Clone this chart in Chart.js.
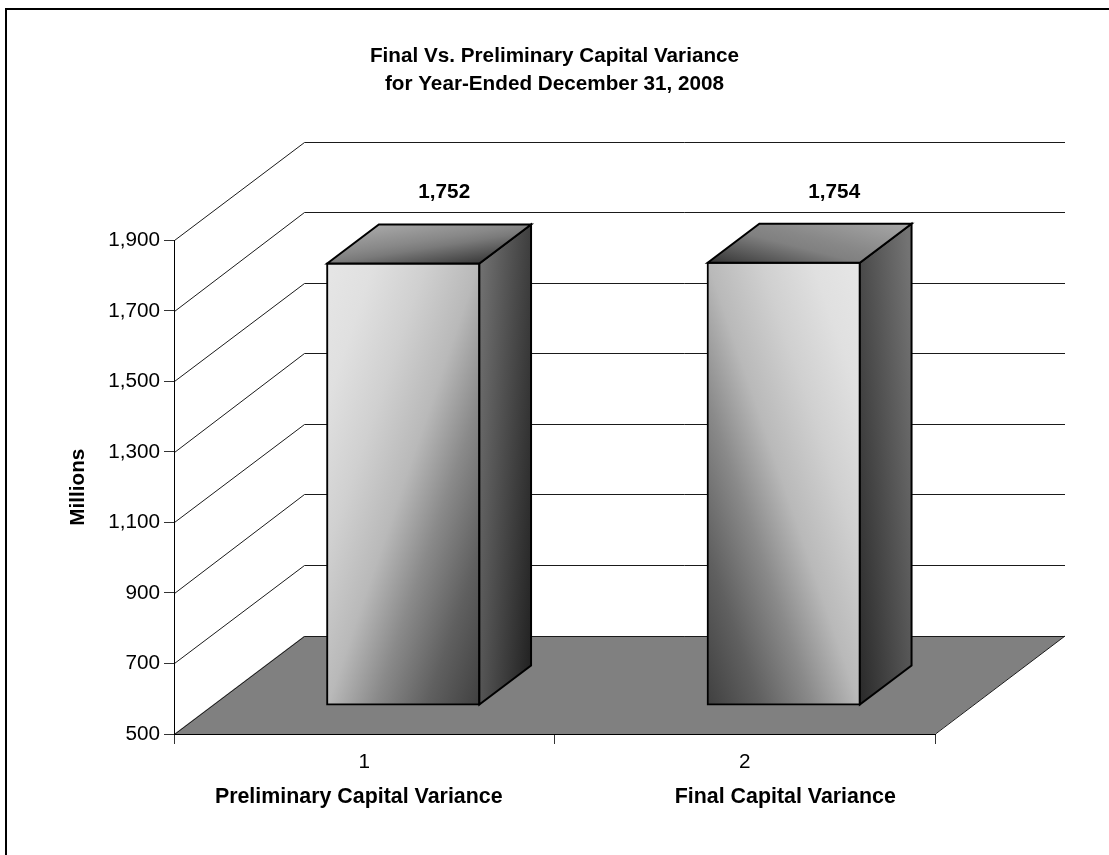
<!DOCTYPE html>
<html><head><meta charset="utf-8">
<style>html,body{margin:0;padding:0;background:#fff}#w{width:1109px;height:855px}canvas{display:block}</style>
<script src="https://cdn.jsdelivr.net/npm/chart.js@4/dist/chart.umd.js"></script>
</head><body><div id="w"><canvas id="c"></canvas></div>
<script>
const categories = ['1', '2'];
const categoryNames = ['Preliminary Capital Variance', 'Final Capital Variance'];
const values = [1752, 1754];
const titleLines = ['Final Vs. Preliminary Capital Variance', 'for Year-Ended December 31, 2008'];
const yAxisTitle = 'Millions';
const yMin = 500, yMax = 1900, yStep = 200;

const FONT = '"Liberation Sans", Arial, sans-serif';
const SIZE = 20.7;
const fmt = v => Number(v).toLocaleString('en-US');
const WALL = {dx: 130, dy: -98};
const GAP = {dx: 39, dy: -29};
const DEPTH = {dx: 51.7, dy: -39};
const BAR_PCT = 0.4;
const LABEL_OFFSET = [80, 89.5];
const NAME_OFFSET = [-5.5, 40.5];

function grad(ctx, x0, y0, vx, vy, stops) {
  const g = ctx.createLinearGradient(x0, y0, x0 + vx, y0 + vy);
  stops.forEach(s => g.addColorStop(s[0], s[1]));
  return g;
}
function frontFill(c) {
  const chart = c.chart, xs = chart.scales.x, ys = chart.scales.y;
  if (!xs || !ys || c.dataIndex === undefined) return '#999';
  const step = Math.abs(xs.getPixelForValue(1) - xs.getPixelForValue(0));
  const w = step * BAR_PCT, cx = xs.getPixelForValue(c.dataIndex), top = ys.getPixelForValue(values[c.dataIndex]);
  if (![step, cx, top].every(Number.isFinite)) return '#999';
  const stops = [[0, '#e6e6e6'], [.155, '#e0e0e0'], [.325, '#d0d0d0'], [.5, '#b9b9b9'], [.655, '#8a8a8a'], [.825, '#606060'], [1, '#404040']];
  return c.dataIndex === 0
    ? grad(chart.ctx, cx - w / 2, top, 272, 93.4, stops)
    : grad(chart.ctx, cx + w / 2, top, -272, 93.4, stops);
}
function poly(ctx, pts, fill, lw, stroke) {
  ctx.beginPath();
  pts.forEach((p, i) => i ? ctx.lineTo(p[0], p[1]) : ctx.moveTo(p[0], p[1]));
  ctx.closePath();
  if (fill) { ctx.fillStyle = fill; ctx.fill(); }
  if (lw) { ctx.lineWidth = lw; ctx.strokeStyle = stroke || '#000'; ctx.lineJoin = 'miter'; ctx.stroke(); }
}
const scene = {
  id: 'scene',
  beforeDraw(chart) {
    const ctx = chart.ctx, a = chart.chartArea, ys = chart.scales.y;
    ctx.save();
    ctx.fillStyle = '#000';
    ctx.fillRect(5, 8, 2, 847);
    ctx.fillRect(5, 8, 1104, 2);
    const b = ys.getPixelForValue(yMin);
    poly(ctx, [[a.left, b], [a.left + WALL.dx, b + WALL.dy], [a.right + WALL.dx, b + WALL.dy], [a.right, b]], '#808080');
    ctx.lineWidth = 1; ctx.strokeStyle = '#1a1a1a';
    for (let v = yMin; v <= yMax; v += yStep) {
      const y0 = ys.getPixelForValue(v);
      const y = Math.round(y0) + .5;
      const yb = Math.floor(y0 + WALL.dy) + .5;
      ctx.beginPath();
      ctx.moveTo(a.left + .5, y);
      ctx.lineTo(a.left + WALL.dx + .5, yb);
      ctx.lineTo(a.right + WALL.dx, yb);
      ctx.stroke();
    }
    ctx.beginPath();
    ctx.moveTo(a.right + WALL.dx, b + WALL.dy);
    ctx.lineTo(a.right + .5, b);
    ctx.stroke();
    ctx.restore();
  },
  beforeDatasetsDraw(chart) { chart.ctx.save(); chart.ctx.translate(GAP.dx, GAP.dy); },
  afterDatasetsDraw(chart) {
    const ctx = chart.ctx;
    ctx.restore();
    ctx.save();
    chart.getDatasetMeta(0).data.forEach((bar, i) => {
      const w = bar.width;
      const l = bar.x - w / 2 + GAP.dx, r = bar.x + w / 2 + GAP.dx;
      const t = bar.y + GAP.dy, bt = bar.base + GAP.dy;
      const dx = DEPTH.dx, dy = DEPTH.dy;
      const side = i === 0
        ? grad(ctx, r, t, 76.6, 4.8, [[0, '#727272'], [1, '#222222']])
        : grad(ctx, r, bt, 87.8, -7.7, [[0, '#2a2a2a'], [1, '#737373']]);
      poly(ctx, [[r, t], [r + dx, t + dy], [r + dx, bt + dy], [r, bt]], side, 2);
      const top = i === 0
        ? grad(ctx, l + dx, t + dy, 12, 76, [[0, '#a8a8a8'], [.3, '#888888'], [.4, '#7a7a7a'], [.7, '#3a3a3a']])
        : grad(ctx, r + dx, t + dy, -31.6, 122.6, [[0, '#a8a8a8'], [.3, '#888888'], [.4, '#808080'], [.7, '#333333']]);
      poly(ctx, [[l, t], [l + dx, t + dy], [r + dx, t + dy], [r, t]], top, 2);
      ctx.fillStyle = '#000';
      ctx.textAlign = 'center'; ctx.textBaseline = 'middle';
      ctx.font = 'bold ' + SIZE + 'px ' + FONT;
      ctx.fillText(fmt(values[i]), bar.x + LABEL_OFFSET[i], bar.y - 100);
      ctx.font = 'bold 21.4px ' + FONT;
      ctx.fillText(categoryNames[i], bar.x + NAME_OFFSET[i], chart.chartArea.bottom + 63);
    });
    ctx.restore();
  }
};
new Chart(document.getElementById('c'), {
  type: 'bar',
  data: {
    labels: categories,
    datasets: [{
      data: values,
      base: yMin,
      backgroundColor: frontFill,
      borderColor: '#000',
      borderWidth: 2,
      borderSkipped: false,
      inflateAmount: 1,
      barPercentage: BAR_PCT,
      categoryPercentage: 1,
      xAxisID: 'x', yAxisID: 'y',
      clip: false
    }]
  },
  plugins: [scene],
  options: {
    responsive: true, maintainAspectRatio: false, animation: false,
    layout: {padding: 0},
    plugins: {
      legend: {display: false}, tooltip: {enabled: false},
      title: {display: true, text: titleLines, color: '#000', font: {family: FONT, size: SIZE, weight: 'bold', lineHeight: 1.36}, padding: {top: 42, bottom: 142}}
    },
    scales: {
      x: {
        type: 'category', position: 'bottom', offset: true,
        grid: {display: true, drawOnChartArea: false, drawTicks: true, tickLength: 10, color: '#333', offset: true},
        border: {display: true, color: '#000', width: 1},
        ticks: {color: '#000', font: {family: FONT, size: SIZE}, padding: 6, autoSkip: false, maxRotation: 0},
        afterFit(s) { s.height = 121; }
      },
      y: {
        min: yMin, max: yMax,
        grid: {display: true, drawOnChartArea: false, drawTicks: true, tickLength: 10, color: '#333'},
        border: {display: true, color: '#000', width: 1},
        ticks: {stepSize: yStep, color: '#000', font: {family: FONT, size: SIZE}, padding: 4, callback: v => fmt(v)},
        title: {display: true, text: yAxisTitle, color: '#000', font: {family: FONT, size: SIZE, weight: 'bold'}, padding: {top: 66, bottom: 0}},
        afterFit(s) { s.width = 174; }
      },
      yRight: {
        position: 'right', min: yMin, max: yMax,
        grid: {display: false, drawTicks: false}, border: {display: false},
        ticks: {display: false},
        afterFit(s) { s.width = 174; }
      }
    }
  }
});
</script></body></html>
